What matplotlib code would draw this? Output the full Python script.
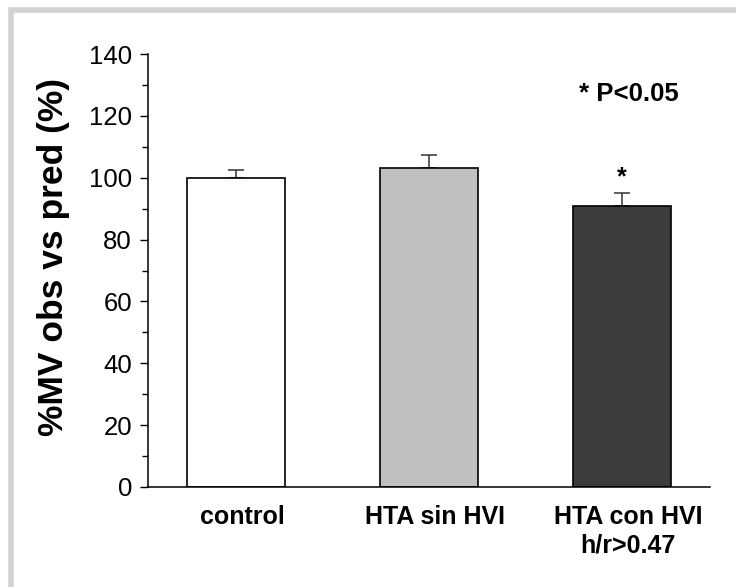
import numpy as np
import matplotlib
matplotlib.use('Agg')
import matplotlib.pyplot as plt
import matplotlib.transforms as mtransforms
from matplotlib.patches import Rectangle
from matplotlib.ticker import MultipleLocator

plt.rcParams['font.family'] = ['Liberation Sans', 'DejaVu Sans']

# data
groups = ['control', 'HTA sin HVI', 'HTA con HVI\nh/r>0.47']
means = [100, 103, 91]
errors = [2.5, 4.2, 4.1]
bar_colors = ['#ffffff', '#c0c0c0', '#3c3c3c']
significant = [False, False, True]

fig = plt.figure(figsize=(7.36, 5.87), dpi=100)

# light gray frame around the whole picture (cut off at right/bottom)
frame = Rectangle((10.5 / 736, -0.02), 1.1, 1 - 9.5 / 587 + 0.02,
                  transform=fig.transFigure, fill=False,
                  edgecolor='#d2d2d2', linewidth=4)
fig.patches.append(frame)

ax = fig.add_axes([148 / 736, 100 / 587, 562 / 736, 433 / 587])

x = np.arange(len(groups))
ax.bar(x, means, width=0.508, color=bar_colors, edgecolor='black',
       linewidth=1.2, zorder=2)
ax.errorbar(x, means, yerr=[np.zeros(len(errors)), errors], fmt='none',
            ecolor='#333333', elinewidth=1.1, capsize=6, capthick=1.1,
            zorder=1)

for xi, m, e, sig in zip(x, means, errors, significant):
    if sig:
        ax.text(xi, m + e + 5, '*', ha='center', va='center',
                fontsize=18, fontweight='bold')

ax.text(2.036, 127.2, '* P<0.05', ha='center', va='center',
        fontsize=18.5, fontweight='bold')

ax.set_xlim(-0.456, 2.456)
ax.set_ylim(0, 140)
ax.yaxis.set_major_locator(MultipleLocator(20))
ax.yaxis.set_minor_locator(MultipleLocator(10))

ax.spines['top'].set_visible(False)
ax.spines['right'].set_visible(False)
ax.spines['left'].set_linewidth(1.1)
ax.spines['bottom'].set_linewidth(1.1)

ax.tick_params(axis='y', which='major', length=5.5, width=1, labelsize=18.5,
               pad=6, direction='out')
ax.tick_params(axis='y', which='minor', length=4.5, width=1, direction='out')
ax.tick_params(axis='x', length=0, pad=13)

ax.set_xticks(x)
ax.set_xticklabels(groups, fontsize=18, fontweight='bold', linespacing=1.25)
shift = mtransforms.ScaledTranslation(6 / 100, 0, fig.dpi_scale_trans)
for lbl in ax.get_xticklabels():
    lbl.set_transform(lbl.get_transform() + shift)

ax.set_ylabel('%MV obs vs pred (%)', fontsize=25.5, fontweight='bold',
              va='center')
ax.yaxis.set_label_coords(-0.169, 0.531)

fig.savefig('out.png', dpi=100)
